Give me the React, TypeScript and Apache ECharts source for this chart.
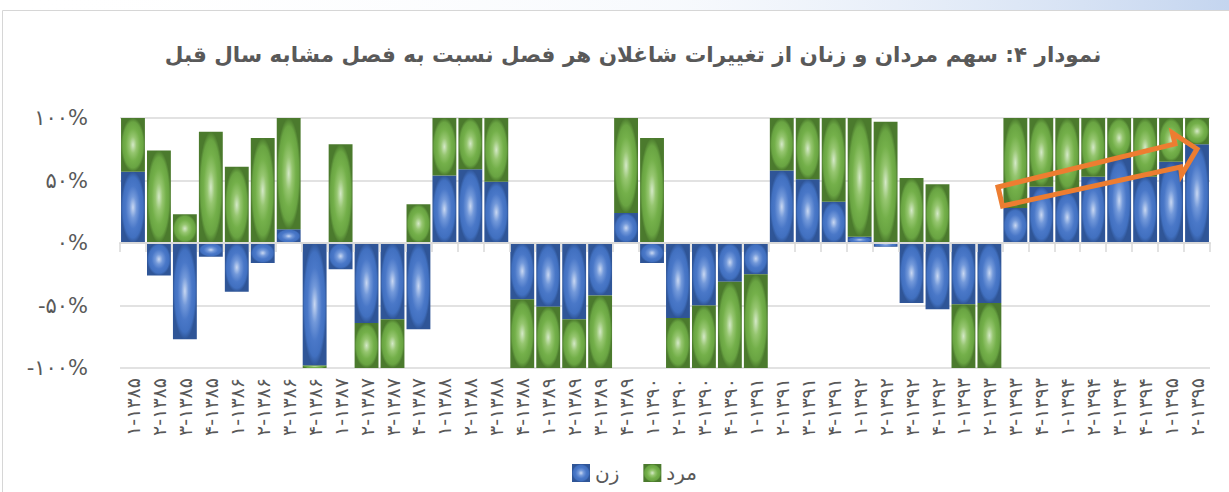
import React, { useEffect, useRef } from "react";
import * as echarts from "echarts";

const titleText = "نمودار ۴: سهم مردان و زنان از تغییرات شاغلان هر فصل نسبت به فصل مشابه سال قبل";

const categories = [
  "۱-۱۳۸۵", "۲-۱۳۸۵", "۳-۱۳۸۵", "۴-۱۳۸۵",
  "۱-۱۳۸۶", "۲-۱۳۸۶", "۳-۱۳۸۶", "۴-۱۳۸۶",
  "۱-۱۳۸۷", "۲-۱۳۸۷", "۳-۱۳۸۷", "۴-۱۳۸۷",
  "۱-۱۳۸۸", "۲-۱۳۸۸", "۳-۱۳۸۸", "۴-۱۳۸۸",
  "۱-۱۳۸۹", "۲-۱۳۸۹", "۳-۱۳۸۹", "۴-۱۳۸۹",
  "۱-۱۳۹۰", "۲-۱۳۹۰", "۳-۱۳۹۰", "۴-۱۳۹۰",
  "۱-۱۳۹۱", "۲-۱۳۹۱", "۳-۱۳۹۱", "۴-۱۳۹۱",
  "۱-۱۳۹۲", "۲-۱۳۹۲", "۳-۱۳۹۲", "۴-۱۳۹۲",
  "۱-۱۳۹۳", "۲-۱۳۹۳", "۳-۱۳۹۳", "۴-۱۳۹۳",
  "۱-۱۳۹۴", "۲-۱۳۹۴", "۳-۱۳۹۴", "۴-۱۳۹۴",
  "۱-۱۳۹۵", "۲-۱۳۹۵",
];

const womenName = "زن";
const menName = "مرد";

// share of women (percent, 100% stacked by absolute value)
const women = [
  57, -26, -77, -11,
  -39, -16, 11, -98,
  -21, -64, -61, -69,
  54, 59, 49, -45,
  -51, -61, -42, 24,
  -16, -60, -50, -31,
  -25, 58, 51, 33,
  5, -3, -48, -53,
  -49, -48, 28, 45,
  41, 53, 68, 53,
  65, 79,
];

// share of men (percent)
const men = [
  43, 74, 23, 89,
  61, 84, 89, -2,
  79, -36, -39, 31,
  46, 41, 51, -55,
  -49, -39, -58, 76,
  84, -40, -50, -69,
  -75, 42, 49, 67,
  95, 97, 52, 47,
  -51, -52, 72, 55,
  59, 47, 32, 47,
  35, 21,
];

const yTickValues = [-100, -50, 0, 50, 100];
const yTickLabels = ["-۱۰۰%", "-۵۰%", "۰%", "۵۰%", "۱۰۰%"];

const FONT = "'DejaVu Sans', sans-serif";
const TEXT = "#595959";
const GRID = "#d9d9d9";

const blueFill = {
  type: "radial",
  x: 0.5,
  y: 0.5,
  r: 0.5,
  colorStops: [
    { offset: 0, color: "#c9d8f2" },
    { offset: 0.3, color: "#7399da" },
    { offset: 0.6, color: "#4a78c8" },
    { offset: 0.85, color: "#4170c0" },
    { offset: 1, color: "#2f5597" },
  ],
};

const greenFill = {
  type: "radial",
  x: 0.5,
  y: 0.5,
  r: 0.5,
  colorStops: [
    { offset: 0, color: "#d5e9c8" },
    { offset: 0.3, color: "#96c670" },
    { offset: 0.6, color: "#74b04a" },
    { offset: 0.85, color: "#69a442" },
    { offset: 1, color: "#4b7a2d" },
  ],
};

export default function App() {
  const ref = useRef<HTMLDivElement>(null);

  useEffect(() => {
    if (!ref.current) return;
    const chart = echarts.init(ref.current, undefined, { renderer: "svg" });
    chart.setOption({
      animation: false,
      backgroundColor: "#ffffff",
      title: {
        text: titleText,
        left: 628,
        textAlign: "center",
        top: 38,
        textStyle: {
          fontFamily: FONT,
          fontSize: 21.5,
          fontWeight: "bold",
          color: TEXT,
        },
      },
      legend: {
        left: 567,
        top: 458,
        itemWidth: 18,
        itemHeight: 18,
        itemGap: 24,
        icon: "rect",
        textStyle: { fontFamily: FONT, fontSize: 20, color: TEXT },
        data: [womenName, menName],
      },
      grid: { left: 120, right: 19, top: 118, bottom: 124, containLabel: false },
      xAxis: [
        {
          type: "category",
          data: categories,
          position: "bottom",
          axisLine: { show: false, onZero: false },
          axisTick: { show: false },
          axisLabel: {
            interval: 0,
            rotate: 90,
            margin: 10,
            fontFamily: FONT,
            fontSize: 19,
            color: TEXT,
          },
        },
        {
          type: "category",
          data: categories,
          position: "top",
          z: 3,
          axisLine: { show: true, onZero: true, lineStyle: { color: GRID, width: 2 } },
          axisTick: { show: true, inside: true, length: 9, interval: 0, lineStyle: { color: GRID, width: 1.5 } },
          axisLabel: { show: false },
          splitLine: { show: false },
        },
      ],
      yAxis: {
        type: "value",
        min: -100,
        max: 100,
        interval: 50,
        axisLine: { show: false },
        axisTick: { show: false },
        splitLine: { show: true, lineStyle: { color: GRID, width: 1.5 } },
        axisLabel: {
          margin: 32,
          fontFamily: FONT,
          fontSize: 21,
          color: TEXT,
          formatter: (v: number) => {
            const i = yTickValues.indexOf(Math.round(v));
            return i >= 0 ? yTickLabels[i] : "";
          },
        },
      },
      series: [
        {
          name: womenName,
          type: "bar",
          stack: "share",
          xAxisIndex: 0,
          barCategoryGap: "8%",
          data: women,
          itemStyle: { color: blueFill },
        },
        {
          name: menName,
          type: "bar",
          stack: "share",
          xAxisIndex: 0,
          barCategoryGap: "8%",
          data: men,
          itemStyle: { color: greenFill },
        },
      ],
      graphic: [
        {
          type: "rect",
          silent: true,
          z: -1,
          shape: { x: 0, y: 0, width: 1229, height: 10 },
          style: {
            fill: {
              type: "linear",
              x: 0,
              y: 0,
              x2: 1,
              y2: 0,
              colorStops: [
                { offset: 0, color: "rgba(255,255,255,0)" },
                { offset: 0.55, color: "rgba(235,241,250,0.4)" },
                { offset: 1, color: "#c4d5ef" },
              ],
            },
          },
        },
        {
          type: "rect",
          silent: true,
          shape: { x: 2.5, y: 10.5, width: 1300, height: 600 },
          style: { fill: "none", stroke: "#d6d6d6", lineWidth: 1 },
        },
        {
          type: "polygon",
          silent: true,
          z: 100,
          shape: {
            points: [
              [998, 187],
              [1175, 144],
              [1172.5, 133],
              [1197, 149],
              [1181.5, 175],
              [1180.5, 167],
              [1002.5, 206],
            ],
          },
          style: { fill: "none", stroke: "#ed7d31", lineWidth: 5, lineJoin: "miter" },
        },
      ],
    });
    return () => chart.dispose();
  }, []);

  return (
    <div
      ref={ref}
      style={{ position: "fixed", left: 0, top: 0, width: 1229, height: 492, background: "#fff" }}
    />
  );
}
